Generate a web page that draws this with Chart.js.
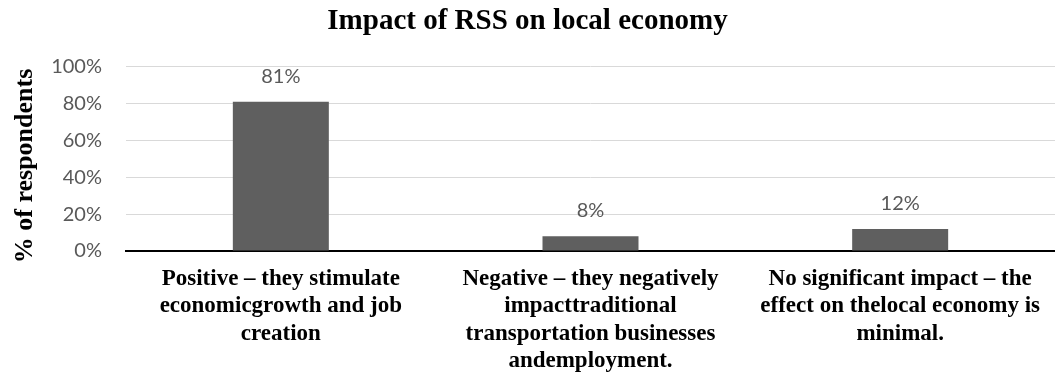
<!DOCTYPE html>
<html>
<head>
<meta charset="utf-8">
<script src="https://cdn.jsdelivr.net/npm/chart.js@4"></script>
<style>
  body { margin: 0; background: #fff; }
</style>
</head>
<body>
<canvas id="chart" width="1055" height="378"></canvas>
<script>
const categories = [
    ['Positive – they stimulate', 'economicgrowth and job', 'creation'],
    ['Negative – they negatively', 'impacttraditional', 'transportation businesses', 'andemployment.'],
    ['No significant impact – the', 'effect on thelocal economy is', 'minimal.']
]
const respondents = [81, 8, 12]
const yTicks = [0, 20, 40, 60, 80, 100]
const yTitle = '% of respondents'

// value labels above bars + y axis title (sits a bit lower than the plot centre)
const extraText = {
    id: 'extraText',
    afterDatasetsDraw(chart) {
        const ctx = chart.ctx
        const meta = chart.getDatasetMeta(0)
        ctx.save()
        ctx.font = '20px Lato'
        ctx.fillStyle = '#595959'
        ctx.textAlign = 'center'
        ctx.textBaseline = 'alphabetic'
        meta.data.forEach((bar, i) => {
            ctx.fillText(respondents[i] + '%', bar.x, bar.y - 19)
        })
        ctx.restore()

        ctx.save()
        ctx.translate(25, 166)
        ctx.rotate(-Math.PI / 2)
        ctx.font = 'bold 26px "Liberation Serif"'
        ctx.fillStyle = '#000'
        ctx.textAlign = 'center'
        ctx.textBaseline = 'middle'
        ctx.fillText(yTitle, 0, 0)
        ctx.restore()
    }
}

const data = {
    labels: categories,
    datasets: [{
        data: respondents,
        backgroundColor: '#5f5f5f',
        categoryPercentage: 1,
        barPercentage: 0.31
    }]
}

const options = {
    responsive: false,
    animation: false,
    layout: { padding: 0 },
    plugins: {
        legend: { display: false },
        tooltip: { enabled: false },
        title: {
            display: true,
            text: 'Impact of RSS on local economy',
            color: '#000',
            font: { family: 'Liberation Serif', size: 29, weight: 'bold', lineHeight: 1.2 },
            padding: { top: 4, bottom: 28 }
        }
    },
    scales: {
        x: {
            grid: { display: false, drawTicks: false },
            border: { color: '#000', width: 2 },
            ticks: {
                color: '#000',
                font: { family: 'Liberation Serif', size: 23, weight: 'bold', lineHeight: '27.5px' },
                padding: 14,
                maxRotation: 0,
                autoSkip: false
            },
            afterFit(scale) { scale.height = 127 }
        },
        y: {
            min: 0,
            max: 100,
            afterBuildTicks(scale) { scale.ticks = yTicks.map(v => ({ value: v })) },
            grid: { color: '#d9d9d9', drawTicks: false },
            border: { display: false },
            ticks: {
                color: '#595959',
                font: { family: 'Lato', size: 20 },
                padding: 24,
                callback: v => v + '%'
            },
            afterFit(scale) { scale.width = 126 }
        }
    }
}

new Chart('chart', { type: 'bar', data, options, plugins: [extraText] })
</script>
</body>
</html>
